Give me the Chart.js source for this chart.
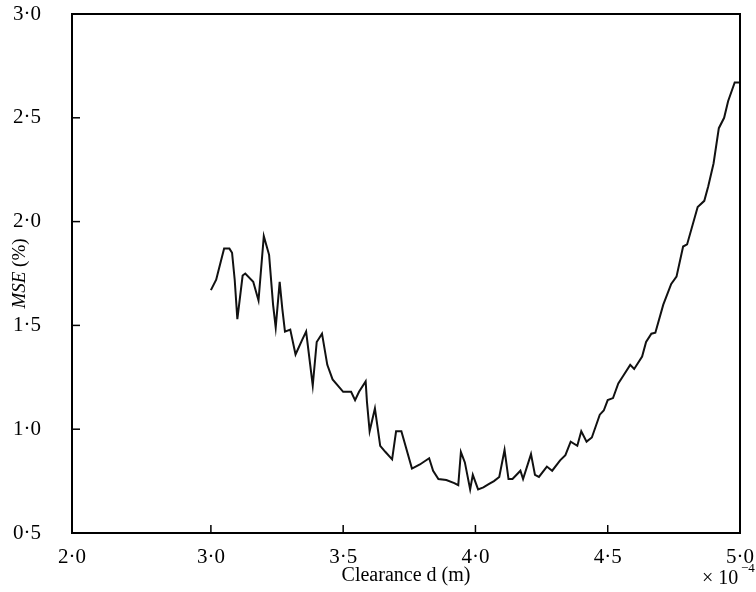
<!DOCTYPE html>
<html>
<head>
<meta charset="utf-8">
<script src="https://cdn.jsdelivr.net/npm/chart.js@4"></script>
<style>
  body { margin: 0; background: #fff; }
  #wrap { width: 756px; height: 592px; }
</style>
</head>
<body>
<div id="wrap"><canvas id="myChart" width="756" height="592"></canvas></div>
<script>
// clearance d (x 10^-4 m) and MSE (%)
const clearance = [
  3.00, 3.02, 3.03, 3.05, 3.07, 3.08, 3.09, 3.10, 3.12, 3.13,
  3.16, 3.18, 3.20, 3.22, 3.235, 3.245, 3.26, 3.27, 3.28, 3.30,
  3.32, 3.345, 3.36, 3.385, 3.40, 3.42, 3.44, 3.46, 3.48, 3.50,
  3.53, 3.545, 3.56, 3.585, 3.59, 3.60, 3.62, 3.64, 3.66, 3.685,
  3.70, 3.72, 3.76, 3.79, 3.825, 3.84, 3.86, 3.89, 3.92, 3.935,
  3.945, 3.96, 3.98, 3.99, 4.01, 4.03, 4.05, 4.07, 4.09, 4.11,
  4.125, 4.14, 4.17, 4.18, 4.21, 4.225, 4.24, 4.27, 4.29, 4.32,
  4.34, 4.36, 4.385, 4.40, 4.42, 4.44, 4.47, 4.485, 4.50, 4.52,
  4.54, 4.56, 4.585, 4.60, 4.63, 4.645, 4.665, 4.68, 4.71, 4.74,
  4.76, 4.785, 4.80, 4.84, 4.865, 4.88, 4.90, 4.92, 4.94, 4.955,
  4.98, 5.00
]
const mse = [
  1.67, 1.72, 1.77, 1.87, 1.87, 1.85, 1.72, 1.53, 1.74, 1.75,
  1.71, 1.62, 1.93, 1.84, 1.60, 1.49, 1.71, 1.58, 1.47, 1.48,
  1.36, 1.43, 1.47, 1.21, 1.42, 1.46, 1.31, 1.24, 1.21, 1.18,
  1.18, 1.14, 1.18, 1.23, 1.13, 0.99, 1.10, 0.92, 0.89, 0.855,
  0.99, 0.99, 0.81, 0.83, 0.86, 0.80, 0.76, 0.755, 0.74, 0.73,
  0.89, 0.84, 0.71, 0.78, 0.71, 0.72, 0.735, 0.75, 0.77, 0.90,
  0.76, 0.76, 0.80, 0.76, 0.88, 0.78, 0.77, 0.82, 0.80, 0.85,
  0.875, 0.94, 0.92, 0.99, 0.94, 0.96, 1.07, 1.09, 1.14, 1.15,
  1.22, 1.26, 1.31, 1.29, 1.35, 1.42, 1.46, 1.465, 1.60, 1.70,
  1.735, 1.88, 1.89, 2.07, 2.10, 2.17, 2.28, 2.45, 2.50, 2.58,
  2.67, 2.67
]
// x axis: left edge is printed as 2·0 in the original figure
const xAxisMin = 2.475
const xTickValues = [xAxisMin, 3.0, 3.5, 4.0, 4.5, 5.0]
const xTickLabels = ['2·0', '3·0', '3·5', '4·0', '4·5', '5·0']
const yTickLabels = ['0·5', '1·0', '1·5', '2·0', '2·5', '3·0']

const points = clearance.map((c, i) => ({ x: c, y: mse[i] }))
const serif = 'Liberation Serif'

// frame, inward tick marks, y title and the x10^-4 note
const frame = {
  id: 'frame',
  afterDraw(chart) {
    const { ctx, chartArea: a, scales } = chart
    ctx.save()
    ctx.strokeStyle = '#000'
    ctx.lineWidth = 2
    ctx.strokeRect(a.left, a.top, a.right - a.left, a.bottom - a.top)
    ctx.lineWidth = 1.5
    scales.x.ticks.forEach((t, i) => {
      const px = scales.x.getPixelForTick(i)
      ctx.beginPath(); ctx.moveTo(px, a.bottom); ctx.lineTo(px, a.bottom - 8); ctx.stroke()
    })
    scales.y.ticks.forEach((t, i) => {
      const py = scales.y.getPixelForTick(i)
      ctx.beginPath(); ctx.moveTo(a.left, py); ctx.lineTo(a.left + 8, py); ctx.stroke()
    })

    ctx.fillStyle = '#000'
    // y title: italic MSE + (%)
    ctx.translate(20, (a.top + a.bottom) / 2)
    ctx.rotate(-Math.PI / 2)
    ctx.textBaseline = 'middle'
    ctx.font = 'italic 19px ' + serif
    const w1 = ctx.measureText('MSE').width
    ctx.font = '19px ' + serif
    const w2 = ctx.measureText(' (%)').width
    ctx.font = 'italic 19px ' + serif
    ctx.textAlign = 'left'
    ctx.fillText('MSE', -(w1 + w2) / 2, 0)
    ctx.font = '19px ' + serif
    ctx.fillText(' (%)', -(w1 + w2) / 2 + w1, 0)
    ctx.setTransform(1, 0, 0, 1, 0, 0)

    // x10^-4
    ctx.textBaseline = 'alphabetic'
    ctx.textAlign = 'left'
    ctx.font = '20px ' + serif
    ctx.fillText('× 10', 702, 584)
    ctx.font = '13px ' + serif
    ctx.fillText('−4', 741, 572)
    ctx.restore()
  }
}

const myChart = new Chart(document.getElementById('myChart'), {
  type: 'scatter',
  data: {
    datasets: [{
      data: points,
      showLine: true,
      borderColor: '#111',
      borderWidth: 2,
      pointRadius: 0,
      tension: 0
    }]
  },
  options: {
    responsive: false,
    animation: false,
    layout: { padding: { top: 14, right: 16, left: 0, bottom: 0 }, autoPadding: false },
    plugins: { legend: { display: false }, tooltip: { enabled: false } },
    scales: {
      x: {
        type: 'linear',
        min: xAxisMin,
        max: 5.0,
        grid: { display: false },
        border: { display: false },
        afterBuildTicks: s => { s.ticks = xTickValues.map(v => ({ value: v })) },
        ticks: {
          color: '#000',
          padding: 4,
          maxRotation: 0,
          font: { family: serif, size: 21 },
          callback: (v, i) => xTickLabels[i]
        },
        title: {
          display: true,
          text: 'Clearance d (m)',
          color: '#000',
          font: { family: serif, size: 20 },
          padding: { top: 0 }
        },
        afterFit: s => { s.height = 59; s.paddingLeft = 0; s.paddingRight = 0 }
      },
      y: {
        min: 0.5,
        max: 3.0,
        grid: { display: false },
        border: { display: false },
        ticks: {
          stepSize: 0.5,
          color: '#000',
          padding: 23,
          font: { family: serif, size: 21 },
          callback: (v, i) => yTickLabels[i]
        },
        afterFit: s => { s.width = 72; s.paddingTop = 0; s.paddingBottom = 0 }
      }
    }
  },
  plugins: [frame]
})
</script>
</body>
</html>
